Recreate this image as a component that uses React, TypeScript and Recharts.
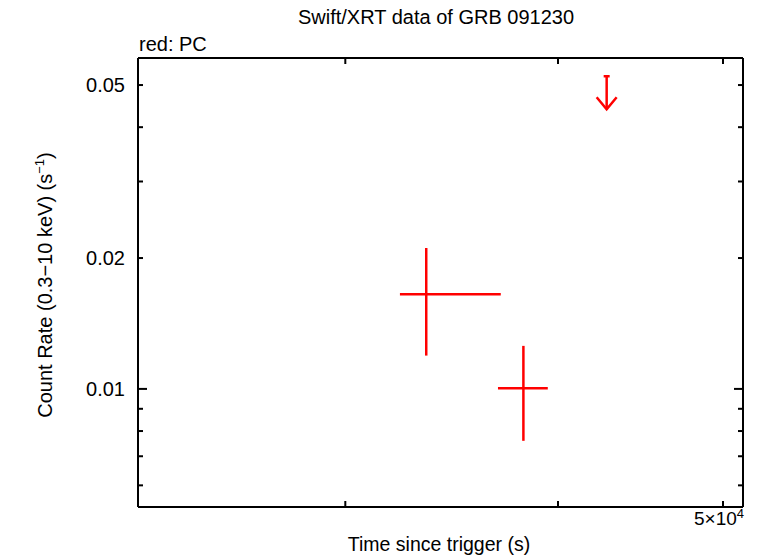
import React from 'react'
import { ScatterChart, Scatter, XAxis, YAxis, ErrorBar } from 'recharts'

// detections (PC mode)
const times = [33470, 38170]
const timeLow = [32300, 36880]
const timeHigh = [37020, 39450]
const rates = [0.01651, 0.01004]
const rateLow = [0.01193, 0.007596]
const rateHigh = [0.02109, 0.01256]

// upper limit
const ulTimes = [42720]
const ulRates = [0.05239]
const ulTips = [0.044]

const xTicks = [30000, 40000, 50000]
const yTicks = [0.006, 0.007, 0.008, 0.009, 0.01, 0.02, 0.03, 0.04, 0.05]
const yLabelled = [0.01, 0.02, 0.05]
const yMajor = [0.01]

const xDomain = [22665, 51370]
const yDomain = [0.00535, 0.0577]

const RED = '#ff0000'
const FONT = '"Liberation Sans", Arial, sans-serif'

const points = times.map((t, i) => ({
  t,
  r: rates[i],
  ex: [t - timeLow[i], timeHigh[i] - t],
  ey: [rates[i] - rateLow[i], rateHigh[i] - rates[i]],
}))

const ulTop = ulTimes.map((t, i) => ({ t, r: ulRates[i], ey: [ulRates[i] - ulTips[i], 0] }))
const ulTip = ulTimes.map((t, i) => ({ t, r: ulTips[i] }))

function BottomTick(props: any) {
  const { x, y, payload } = props
  return (
    <g>
      <line x1={x} x2={x} y1={y} y2={y - 6} stroke="#000" strokeWidth={2} />
      {payload.value === 50000 && (
        <text x={x - 4} y={y + 18} textAnchor="middle" fontSize={19} fontFamily={FONT} fill="#000">
          5×10<tspan dy={-7} fontSize={13}>4</tspan>
        </text>
      )}
    </g>
  )
}

function TopTick(props: any) {
  const { x, y } = props
  return <line x1={x} x2={x} y1={y} y2={y + 6} stroke="#000" strokeWidth={2} />
}

function LeftTick(props: any) {
  const { x, y, payload } = props
  const len = yMajor.includes(payload.value) ? 9 : 5
  return (
    <g>
      <line x1={x} x2={x + len} y1={y} y2={y} stroke="#000" strokeWidth={2} />
      {yLabelled.includes(payload.value) && (
        <text x={x - 13} y={y} dy="0.36em" textAnchor="end" fontSize={20} fontFamily={FONT} fill="#000">
          {String(payload.value)}
        </text>
      )}
    </g>
  )
}

function RightTick(props: any) {
  const { x, y, payload } = props
  const len = yMajor.includes(payload.value) ? 9 : 5
  return <line x1={x} x2={x - len} y1={y} y2={y} stroke="#000" strokeWidth={2} />
}

const Hidden = () => <g />

const UlCap = (props: any) => {
  const { cx, cy } = props
  return <line x1={cx - 3} x2={cx + 3} y1={cy} y2={cy} stroke={RED} strokeWidth={2.5} />
}

const UlHead = (props: any) => {
  const { cx, cy } = props
  return (
    <polyline
      points={`${cx - 10},${cy - 12} ${cx},${cy} ${cx + 10},${cy - 12}`}
      fill="none"
      stroke={RED}
      strokeWidth={2.5}
    />
  )
}

const TitleLabel = () => (
  <g fontFamily={FONT} fill="#000">
    <text x={436} y={24} textAnchor="middle" fontSize={20}>
      Swift/XRT data of GRB 091230
    </text>
    <text x={139} y={51} textAnchor="start" fontSize={20}>
      red: PC
    </text>
  </g>
)

const XTitle = () => (
  <text x={439} y={551} textAnchor="middle" fontSize={19.5} fontFamily={FONT} fill="#000">
    Time since trigger (s)
  </text>
)

const YTitle = () => (
  <text
    x={52}
    y={285}
    transform="rotate(-90 52 285)"
    textAnchor="middle"
    fontSize={20}
    fontFamily={FONT}
    fill="#000"
  >
    Count Rate (0.3−10 keV) (s<tspan dy={-8} fontSize={13}>−1</tspan>
    <tspan dy={8}>)</tspan>
  </text>
)

export default function App() {
  return (
    <div style={{ position: 'absolute', left: 0, top: 0, width: 763, height: 558, background: '#fff' }}>
      <ScatterChart width={763} height={558} margin={{ top: 57, right: 19, bottom: 0, left: 0 }}>
        <XAxis
          xAxisId="b"
          type="number"
          dataKey="t"
          scale="log"
          domain={xDomain}
          allowDataOverflow
          ticks={xTicks}
          height={51}
          tickSize={0}
          tickMargin={0}
          tick={<BottomTick />}
          axisLine={{ stroke: '#000', strokeWidth: 2 }}
          tickLine={false}
          interval={0}
          label={<XTitle />}
        />
        <XAxis
          xAxisId="t"
          orientation="top"
          type="number"
          dataKey="t"
          scale="log"
          domain={xDomain}
          allowDataOverflow
          ticks={xTicks}
          height={1}
          tickSize={0}
          tickMargin={0}
          tick={<TopTick />}
          axisLine={{ stroke: '#000', strokeWidth: 2 }}
          tickLine={false}
          interval={0}
          label={<TitleLabel />}
        />
        <YAxis
          yAxisId="l"
          type="number"
          dataKey="r"
          scale="log"
          domain={yDomain}
          allowDataOverflow
          ticks={yTicks}
          width={138}
          tickSize={0}
          tickMargin={0}
          tick={<LeftTick />}
          axisLine={{ stroke: '#000', strokeWidth: 2 }}
          tickLine={false}
          interval={0}
          label={<YTitle />}
        />
        <YAxis
          yAxisId="r"
          orientation="right"
          type="number"
          dataKey="r"
          scale="log"
          domain={yDomain}
          allowDataOverflow
          ticks={yTicks}
          width={1}
          tickSize={0}
          tickMargin={0}
          tick={<RightTick />}
          axisLine={{ stroke: '#000', strokeWidth: 2 }}
          tickLine={false}
          interval={0}
        />
        <Scatter data={points} xAxisId="t" yAxisId="r" shape={<Hidden />} isAnimationActive={false} />
        <Scatter data={points} xAxisId="b" yAxisId="l" shape={<Hidden />} isAnimationActive={false}>
          <ErrorBar dataKey="ex" direction="x" width={0} stroke={RED} strokeWidth={2.5} isAnimationActive={false} />
          <ErrorBar dataKey="ey" direction="y" width={0} stroke={RED} strokeWidth={2.5} isAnimationActive={false} />
        </Scatter>
        <Scatter data={ulTop} xAxisId="b" yAxisId="l" shape={<UlCap />} isAnimationActive={false}>
          <ErrorBar dataKey="ey" direction="y" width={0} stroke={RED} strokeWidth={2.5} isAnimationActive={false} />
        </Scatter>
        <Scatter data={ulTip} xAxisId="b" yAxisId="l" shape={<UlHead />} isAnimationActive={false} />
      </ScatterChart>
    </div>
  )
}
